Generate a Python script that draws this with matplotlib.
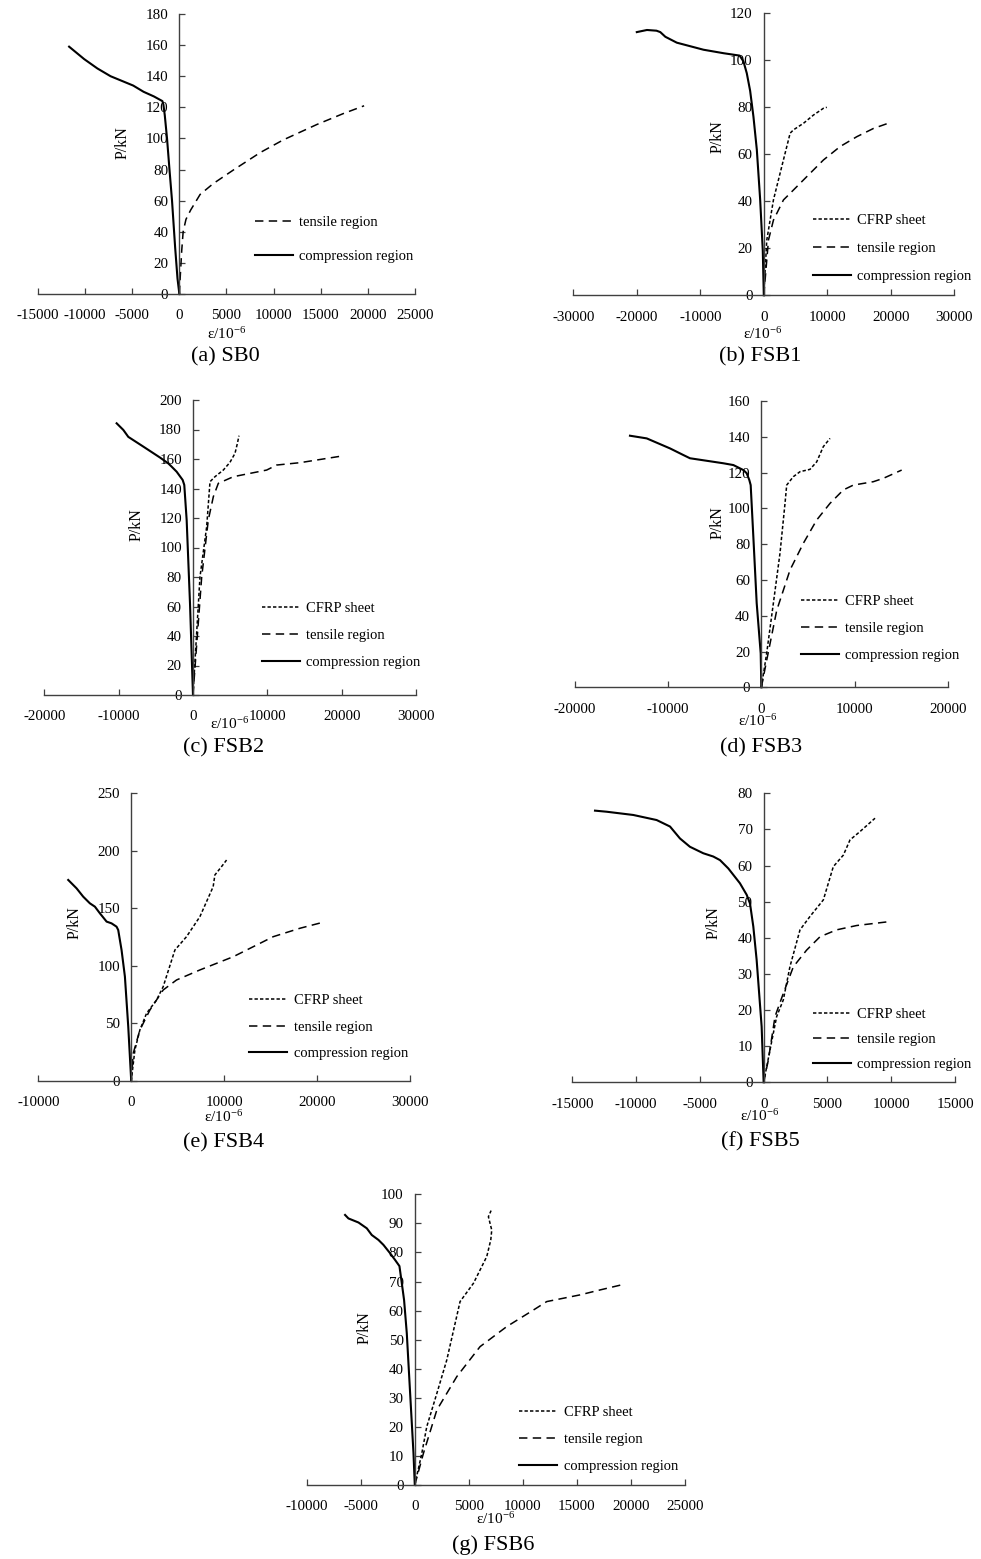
import matplotlib
matplotlib.use("Agg")
import matplotlib.pyplot as plt

plt.rcParams["font.family"] = ["Liberation Serif", "DejaVu Serif"]
plt.rcParams["mathtext.fontset"] = "custom"
plt.rcParams["mathtext.rm"] = "Liberation Serif"
plt.rcParams["mathtext.it"] = "Liberation Serif:italic"
plt.rcParams["axes.unicode_minus"] = False

# ---- data (strain in 1e-6, load in kN) ----
# (a) SB0
sb0_comp_e = [0, -200, -450, -780, -1050, -1310, -1550, -1700, -1800, -2700, -3800, -4900, -6100, -7300, -8700, -10100, -11700]
sb0_comp_p = [0, 10, 30, 60, 80, 100, 115, 122, 124, 127, 130, 134, 137, 140, 145, 151, 159]
sb0_ten_e = [0, 100, 250, 400, 700, 1200, 2200, 3600, 5800, 8600, 11000, 14600, 17400, 19600]
sb0_ten_p = [0, 12, 28, 40, 48, 54, 64, 71, 80, 91, 99, 109, 116, 121]

# (b) FSB1
fsb1_comp_e = [0, -160, -580, -1100, -1630, -2150, -2680, -3200, -3800, -6300, -9500, -13700, -15500, -16300, -16900, -18400, -20000]
fsb1_comp_p = [0, 19, 41, 62, 76, 87, 94.5, 99.5, 102, 103, 104.5, 107.5, 110, 112, 112.6, 112.9, 112]
fsb1_cfrp_e = [0, 470, 1520, 2830, 4150, 4670, 6250, 7820, 9400, 9920]
fsb1_cfrp_p = [0, 23.5, 40.6, 54.8, 69, 70.4, 73.2, 76.7, 79.6, 80]
fsb1_ten_e = [0, 735, 1520, 3100, 4150, 6770, 9400, 12020, 14650, 17270, 19370]
fsb1_ten_p = [0, 23.5, 32, 40.6, 43.4, 50.5, 57.6, 63.3, 67.5, 71, 73]

# (c) FSB2
fsb2_comp_e = [0, -400, -850, -1170, -1390, -2200, -2870, -3320, -4440, -6680, -8700, -9370, -10270]
fsb2_comp_p = [0, 62, 118.6, 142.4, 145.8, 151.4, 154.8, 157, 161, 168.4, 175, 179.7, 184.2]
fsb2_cfrp_e = [0, 940, 1840, 2290, 2960, 4080, 4970, 5650, 5970, 6190]
fsb2_cfrp_p = [0, 80, 114, 144.6, 148, 152.5, 157.7, 163.8, 170.5, 175.8]
fsb2_ten_e = [0, 1170, 2060, 2740, 3410, 5430, 9910, 11250, 14390, 20000]
fsb2_ten_p = [0, 80, 118.6, 134.5, 143.5, 148, 152.5, 155.9, 157.5, 162]

# (d) FSB3
fsb3_comp_e = [0, -70, -500, -860, -1145, -1290, -1570, -1930, -3000, -4080, -5870, -7660, -8370, -9800, -11230, -12300, -14100]
fsb3_comp_p = [0, 19, 47, 84.2, 113, 115.8, 119.6, 121.4, 124.2, 125.2, 126.6, 128, 129.8, 133.5, 136.7, 139.1, 140.6]
fsb3_cfrp_e = [0, 570, 1290, 2000, 2540, 2720, 3430, 4150, 5220, 5940, 6650, 7370]
fsb3_cfrp_p = [0, 19, 47, 74.9, 102.8, 113, 117.7, 120.5, 121.8, 126, 134.5, 139.1]
fsb3_ten_e = [0, 570, 1650, 3080, 4510, 5940, 7370, 8800, 9870, 12020, 13100, 15060]
fsb3_ten_p = [0, 15, 43, 65.6, 80.5, 93.5, 102.8, 110.3, 113, 114.9, 116.8, 121.4]

# (e) FSB4
fsb4_comp_e = [0, -320, -680, -1040, -1400, -1580, -2120, -2650, -3370, -3910, -4450, -5170, -5880, -6780]
fsb4_comp_p = [0, 47.2, 90.7, 113.8, 131.2, 134.1, 137, 138.5, 145.7, 151.5, 154.4, 160.2, 167.4, 174.7]
fsb4_cfrp_e = [0, 395, 930, 1650, 2730, 3440, 4700, 5950, 7390, 8820, 9000, 9720, 10260]
fsb4_cfrp_p = [0, 27, 44.3, 58.8, 70.4, 82, 113.8, 125.4, 142.8, 168.9, 179, 186.3, 192]
fsb4_ten_e = [0, 215, 930, 2010, 3440, 4880, 7390, 10980, 13850, 15280, 18150, 20480]
fsb4_ten_p = [0, 24, 44.3, 61.7, 79.1, 87.8, 96.5, 108, 119.6, 125.4, 132.7, 137.6]

# (f) FSB5
fsb5_comp_e = [0, -157, -550, -810, -1070, -1330, -1860, -2770, -3420, -3950, -4730, -5780, -6560, -7340, -8390, -10220, -12310, -13220]
fsb5_comp_p = [0, 15.4, 33.9, 43.1, 49.5, 51.9, 55.1, 59.2, 61.5, 62.5, 63.4, 65.2, 67.5, 70.8, 72.6, 74, 74.9, 75.2]
fsb5_cfrp_e = [0, 500, 1020, 1540, 2060, 2850, 3630, 4680, 5460, 6250, 6770, 7550, 8730]
fsb5_cfrp_p = [0, 9, 18.2, 22.8, 32, 42.2, 45.9, 50.5, 59.7, 62.9, 67.1, 69.4, 73.1]
fsb5_ten_e = [0, 370, 890, 1540, 2330, 3370, 4420, 5720, 7290, 9900]
fsb5_ten_p = [0, 6.2, 18.2, 24.6, 32, 36.6, 40.3, 42.2, 43.4, 44.5]

# (g) FSB6
fsb6_comp_e = [0, -120, -430, -740, -990, -1200, -1420, -1820, -2280, -2900, -3360, -3980, -4440, -5210, -6140, -6450]
fsb6_comp_p = [0, 10.9, 31.5, 52.2, 63.6, 69.4, 75.3, 77.4, 79.7, 82.6, 84.3, 86, 88.3, 90.3, 91.7, 92.9]
fsb6_cfrp_e = [0, 650, 1110, 2040, 2960, 4190, 5430, 6660, 7030, 7120, 6810, 7060]
fsb6_cfrp_p = [0, 10.9, 20.1, 31.5, 43, 63.1, 69.4, 78.6, 84.3, 87.7, 92.3, 94.4]
fsb6_ten_e = [0, 800, 2040, 3890, 6040, 8510, 10980, 12210, 15290, 17140, 19300]
fsb6_ten_p = [0, 10.9, 25.8, 37.3, 47.6, 54.5, 60.2, 63.1, 65.4, 67.1, 69]

# tick values for each panel
xt_a = [-15000, -10000, -5000, 0, 5000, 10000, 15000, 20000, 25000]
yt_a = list(range(0, 181, 20))
xt_b = [-30000, -20000, -10000, 0, 10000, 20000, 30000]
yt_b = list(range(0, 121, 20))
xt_c = [-20000, -10000, 0, 10000, 20000, 30000]
yt_c = list(range(0, 201, 20))
xt_d = [-20000, -10000, 0, 10000, 20000]
yt_d = list(range(0, 161, 20))
xt_e = [-10000, 0, 10000, 20000, 30000]
yt_e = list(range(0, 251, 50))
xt_f = [-15000, -10000, -5000, 0, 5000, 10000, 15000]
yt_f = list(range(0, 81, 10))
xt_g = [-10000, -5000, 0, 5000, 10000, 15000, 20000, 25000]
yt_g = list(range(0, 101, 10))

W, H = 981, 1559
fig = plt.figure(figsize=(W / 100, H / 100), dpi=100)
fig.patch.set_facecolor("white")


def fx(x):
    return x / W


def fy(y):
    return 1 - y / H


CFRP_DASH = (2.2, 1.4)
TEN_DASH = (5.5, 3.5)
LEG_FS = 10.5


def panel(box, xt, yt, comp, ten, cfrp, caption, ylab_xy, xlab_xy, cap_xy, leg_xy, leg_pitch):
    l, t, r, b = box
    ax = fig.add_axes([fx(l), fy(b), (r - l) / W, (b - t) / H])
    ax.set_xlim(xt[0], xt[-1])
    ax.set_ylim(0, yt[-1])
    for s in ["top", "right"]:
        ax.spines[s].set_visible(False)
    ax.spines["left"].set_position(("data", 0))
    for s in ["left", "bottom"]:
        ax.spines[s].set_color("#404040")
        ax.spines[s].set_linewidth(1.0)
    ax.set_xticks(xt)
    ax.set_yticks(yt)
    ax.tick_params(direction="in", length=4, width=0.9, color="#404040", labelsize=10.8)
    ax.tick_params(axis="x", pad=11)
    ax.tick_params(axis="y", pad=8)

    handles = []
    if cfrp is not None:
        ln, = ax.plot(cfrp[0], cfrp[1], color="black", lw=1.1, dashes=CFRP_DASH, clip_on=False)
        handles.append((ln, "CFRP sheet"))
    ln, = ax.plot(ten[0], ten[1], color="black", lw=1.1, dashes=TEN_DASH, clip_on=False)
    handles.append((ln, "tensile region"))
    ln, = ax.plot(comp[0], comp[1], color="black", lw=1.5, clip_on=False)
    handles.append((ln, "compression region"))

    fs_px = LEG_FS * 100 / 72
    ls = (leg_pitch - 0.94 * fs_px) / fs_px
    ax.legend([h for h, _ in handles], [n for _, n in handles],
              loc="upper left", bbox_to_anchor=(fx(leg_xy[0]), fy(leg_xy[1] - 6.5)),
              bbox_transform=fig.transFigure, frameon=False, fontsize=LEG_FS,
              handlelength=2.6, handletextpad=0.45, labelspacing=ls,
              borderpad=0, borderaxespad=0)

    fig.text(fx(ylab_xy[0]), fy(ylab_xy[1]), "P/kN", rotation=90, fontsize=11.5,
             ha="center", va="center")
    fig.text(fx(xlab_xy[0]), fy(xlab_xy[1]), "ε/10$^{-6}$", fontsize=11,
             ha="center", va="top")
    fig.text(fx(cap_xy[0]), fy(cap_xy[1]), caption, fontsize=16,
             ha="center", va="center")
    return ax


panel((38, 14, 415, 294), xt_a, yt_a, (sb0_comp_e, sb0_comp_p), (sb0_ten_e, sb0_ten_p), None,
      "(a) SB0", (123, 143), (227, 326), (225, 357), (255, 222), 35)
panel((573.3, 13.3, 954.3, 295.3), xt_b, yt_b, (fsb1_comp_e, fsb1_comp_p), (fsb1_ten_e, fsb1_ten_p),
      (fsb1_cfrp_e, fsb1_cfrp_p), "(b) FSB1", (718, 137), (763, 326), (760, 357), (812.7, 220), 28.5)
panel((44.3, 400, 416, 695), xt_c, yt_c, (fsb2_comp_e, fsb2_comp_p), (fsb2_ten_e, fsb2_ten_p),
      (fsb2_cfrp_e, fsb2_cfrp_p), "(c) FSB2", (137, 525), (230, 716), (224, 748), (261.7, 608), 27.5)
panel((575, 401, 947.7, 687.3), xt_d, yt_d, (fsb3_comp_e, fsb3_comp_p), (fsb3_ten_e, fsb3_ten_p),
      (fsb3_cfrp_e, fsb3_cfrp_p), "(d) FSB3", (718, 523), (758, 713), (760.7, 748), (800.7, 601.7), 27.2)
panel((38.3, 793.3, 410, 1081), xt_e, yt_e, (fsb4_comp_e, fsb4_comp_p), (fsb4_ten_e, fsb4_ten_p),
      (fsb4_cfrp_e, fsb4_cfrp_p), "(e) FSB4", (75, 923), (224, 1109), (224, 1143), (249.3, 1000.7), 26.8)
panel((572.3, 793.3, 955, 1082.3), xt_f, yt_f, (fsb5_comp_e, fsb5_comp_p), (fsb5_ten_e, fsb5_ten_p),
      (fsb5_cfrp_e, fsb5_cfrp_p), "(f) FSB5", (714, 923), (760, 1108), (760.7, 1141.7), (812.7, 1014), 25.5)
panel((306.7, 1194.3, 685, 1485), xt_g, yt_g, (fsb6_comp_e, fsb6_comp_p), (fsb6_ten_e, fsb6_ten_p),
      (fsb6_cfrp_e, fsb6_cfrp_p), "(g) FSB6", (365, 1328), (496, 1511), (493.3, 1545), (519.3, 1412.3), 27.5)

fig.savefig("out.png", dpi=100, facecolor="white")
